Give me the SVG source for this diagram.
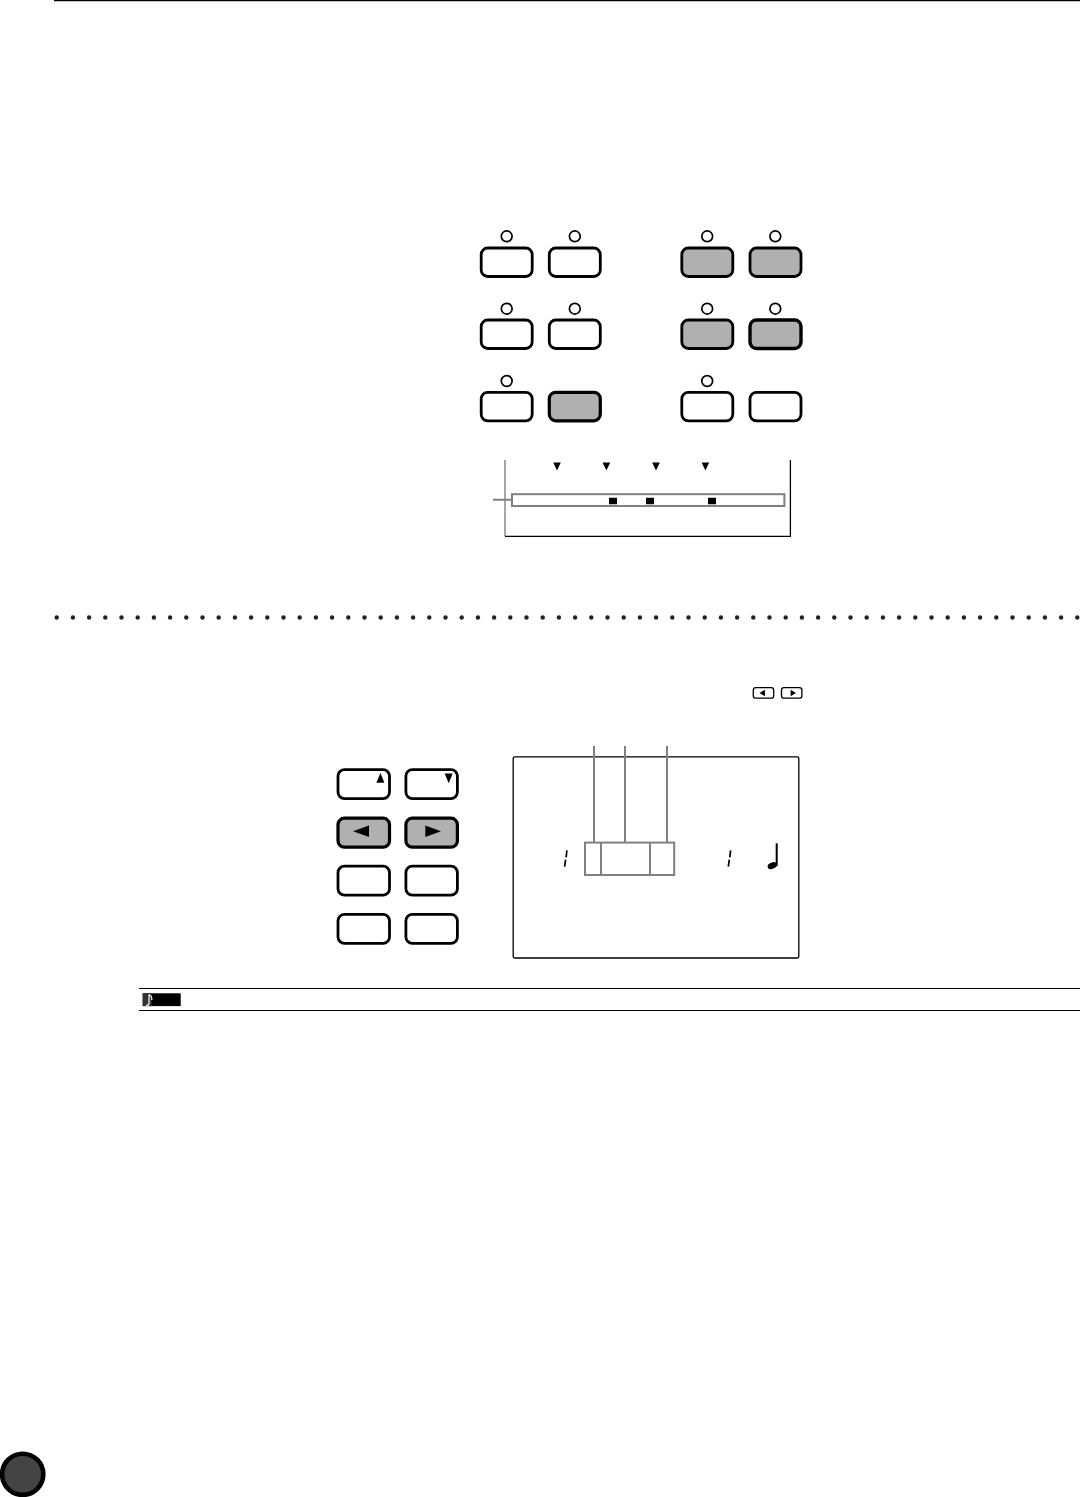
<svg xmlns="http://www.w3.org/2000/svg" width="1080" height="1497" viewBox="0 0 1080 1497">
<defs>
<style>
.btn{fill:#fff;stroke:#000;stroke-width:2.8}
.on{fill:#b0b0b0}
.led{fill:#fff;stroke:#000;stroke-width:1.7}
.g{fill:none;stroke:#808080;stroke-width:2}
.k{fill:none;stroke:#000;stroke-width:1.3}
.sm{fill:#fff;stroke:#000;stroke-width:1.3}
</style>
<rect id="b" x="0" y="0" width="51" height="28.5" rx="6.5"/>
<rect id="b2" x="0" y="0" width="51.5" height="29" rx="6.5"/>
<circle id="l" r="5.4"/>
</defs>
<rect width="1080" height="1497" fill="#fff"/>
<line x1="54" y1="0.5" x2="1080" y2="0.5" stroke="#000" stroke-width="1.3"/>

<g id="panel-top">
<g id="t1"><use href="#l" class="led" x="506.7" y="236.3"/><use href="#b" class="btn" x="481.2" y="248"/></g>
<g id="t2"><use href="#l" class="led" x="574.8" y="236.3"/><use href="#b" class="btn" x="549.3" y="248"/></g>
<g id="t3"><use href="#l" class="led" x="707.2" y="236.3"/><use href="#b" class="btn on" x="681.8" y="248"/></g>
<g id="t4"><use href="#l" class="led" x="775.3" y="236.3"/><use href="#b" class="btn on" x="750" y="248"/></g>
<g id="t5"><use href="#l" class="led" x="506.7" y="308.7"/><use href="#b" class="btn" x="481.2" y="320"/></g>
<g id="t6"><use href="#l" class="led" x="574.8" y="308.7"/><use href="#b" class="btn" x="549.3" y="320"/></g>
<g id="t7"><use href="#l" class="led" x="707.2" y="308.7"/><use href="#b" class="btn on" x="681.8" y="320"/></g>
<g id="t8"><use href="#l" class="led" x="775.3" y="308.7"/><use href="#b" class="btn on" style="stroke-width:3.4" x="750" y="320"/></g>
<g id="t9"><use href="#l" class="led" x="506.7" y="381"/><use href="#b" class="btn" x="481.2" y="392.3"/></g>
<g id="t10"><use href="#b" class="btn on" style="stroke-width:3.2" x="549.3" y="392.3"/></g>
<g id="t11"><use href="#l" class="led" x="707.2" y="381"/><use href="#b" class="btn" x="681.8" y="392.3"/></g>
<g id="t12"><use href="#b" class="btn" x="750" y="392.3"/></g>
</g>

<g id="display-top">
<path d="M505 460V536.3" class="g" style="stroke-width:1.4"/>
<path d="M505 536.3H790.4V460" class="k"/>
<path d="M553.2 462.6h7.6L557 470.4ZM602.6 462.6h7.6L606.4 470.4ZM652.2 462.6h7.6L656 470.4ZM701.6 462.6h7.6L705.4 470.4Z" fill="#000"/>
<rect x="512" y="494.2" width="272.4" height="11.8" class="g"/>
<path d="M609 497.8h8v6.4h-8ZM646 497.8h8v6.4h-8ZM708 497.8h8v6.4h-8Z" fill="#000"/>
</g>

<g id="dots" fill="#222">
<circle cx="56.7" cy="617.5" r="2.2"/><circle cx="72.9" cy="617.5" r="2.2"/><circle cx="89.1" cy="617.5" r="2.2"/><circle cx="105.3" cy="617.5" r="2.2"/><circle cx="121.5" cy="617.5" r="2.2"/><circle cx="137.7" cy="617.5" r="2.2"/><circle cx="153.9" cy="617.5" r="2.2"/><circle cx="170.1" cy="617.5" r="2.2"/><circle cx="186.3" cy="617.5" r="2.2"/><circle cx="202.5" cy="617.5" r="2.2"/><circle cx="218.7" cy="617.5" r="2.2"/><circle cx="234.9" cy="617.5" r="2.2"/><circle cx="251.1" cy="617.5" r="2.2"/><circle cx="267.3" cy="617.5" r="2.2"/><circle cx="283.5" cy="617.5" r="2.2"/><circle cx="299.7" cy="617.5" r="2.2"/><circle cx="315.9" cy="617.5" r="2.2"/><circle cx="332.1" cy="617.5" r="2.2"/><circle cx="348.3" cy="617.5" r="2.2"/><circle cx="364.5" cy="617.5" r="2.2"/><circle cx="380.7" cy="617.5" r="2.2"/><circle cx="396.9" cy="617.5" r="2.2"/><circle cx="413.1" cy="617.5" r="2.2"/><circle cx="429.3" cy="617.5" r="2.2"/><circle cx="445.5" cy="617.5" r="2.2"/><circle cx="461.7" cy="617.5" r="2.2"/><circle cx="477.9" cy="617.5" r="2.2"/><circle cx="494.1" cy="617.5" r="2.2"/><circle cx="510.3" cy="617.5" r="2.2"/><circle cx="526.5" cy="617.5" r="2.2"/><circle cx="542.7" cy="617.5" r="2.2"/><circle cx="558.9" cy="617.5" r="2.2"/><circle cx="575.1" cy="617.5" r="2.2"/><circle cx="591.3" cy="617.5" r="2.2"/><circle cx="607.5" cy="617.5" r="2.2"/><circle cx="623.7" cy="617.5" r="2.2"/><circle cx="639.9" cy="617.5" r="2.2"/><circle cx="656.1" cy="617.5" r="2.2"/><circle cx="672.3" cy="617.5" r="2.2"/><circle cx="688.5" cy="617.5" r="2.2"/><circle cx="704.7" cy="617.5" r="2.2"/><circle cx="720.9" cy="617.5" r="2.2"/><circle cx="737.1" cy="617.5" r="2.2"/><circle cx="753.3" cy="617.5" r="2.2"/><circle cx="769.5" cy="617.5" r="2.2"/><circle cx="785.7" cy="617.5" r="2.2"/><circle cx="801.9" cy="617.5" r="2.2"/><circle cx="818.1" cy="617.5" r="2.2"/><circle cx="834.3" cy="617.5" r="2.2"/><circle cx="850.5" cy="617.5" r="2.2"/><circle cx="866.7" cy="617.5" r="2.2"/><circle cx="882.9" cy="617.5" r="2.2"/><circle cx="899.1" cy="617.5" r="2.2"/><circle cx="915.3" cy="617.5" r="2.2"/><circle cx="931.5" cy="617.5" r="2.2"/><circle cx="947.7" cy="617.5" r="2.2"/><circle cx="963.9" cy="617.5" r="2.2"/><circle cx="980.1" cy="617.5" r="2.2"/><circle cx="996.3" cy="617.5" r="2.2"/><circle cx="1012.5" cy="617.5" r="2.2"/><circle cx="1028.7" cy="617.5" r="2.2"/><circle cx="1044.9" cy="617.5" r="2.2"/><circle cx="1061.1" cy="617.5" r="2.2"/><circle cx="1077.3" cy="617.5" r="2.2"/>
</g>

<g id="inline-keys">
<rect class="sm" x="753.3" y="687.6" width="20.4" height="10.6" rx="2.5"/>
<path d="M759.5 693l5.4-3.3v6.6Z" fill="#000"/>
<rect class="sm" x="781.5" y="687.6" width="20.4" height="10.6" rx="2.5"/>
<path d="M796 693l-5.4-3.3v6.6Z" fill="#000"/>
</g>

<g id="panel-bottom">
<g id="k1"><use href="#b2" class="btn" x="338" y="769.6"/><path d="M380.4 773l4 9.8h-8Z" fill="#000"/></g>
<g id="k2"><use href="#b2" class="btn" x="405.9" y="769.6"/><path d="M448.7 783.2l-4-9.6h8Z" fill="#000"/></g>
<g id="k3"><use href="#b2" class="btn on" style="stroke-width:3.2" x="338" y="818.2"/><path d="M353 831.2l16-5.8v11.6Z" fill="#000"/></g>
<g id="k4"><use href="#b2" class="btn on" style="stroke-width:3.2" x="405.9" y="818.2"/><path d="M441 831.2l-15.7-5.8v11.6Z" fill="#000"/></g>
<g id="k5"><use href="#b2" class="btn" x="338" y="866.2"/></g>
<g id="k6"><use href="#b2" class="btn" x="405.9" y="866.2"/></g>
<g id="k7"><use href="#b2" class="btn" x="338" y="914.4"/></g>
<g id="k8"><use href="#b2" class="btn" x="405.9" y="914.4"/></g>
</g>

<g id="display-bottom">
<rect x="513.2" y="756.8" width="285.6" height="201.2" rx="1.5" class="k"/>
<path d="M566.9 850.4l-0.8 7M565.6 859.6l-1 7M730.6 850.4l-0.8 7M729.3 859.6l-1 7" fill="none" stroke="#000" stroke-width="1.7"/>
<path d="M776.7 843.3V866" fill="none" stroke="#000" stroke-width="2"/>
<ellipse cx="772.3" cy="865.6" rx="4.8" ry="3.2" transform="rotate(-22 772.3 865.6)" fill="#000"/>
<rect x="585" y="842.6" width="89.2" height="32.4" class="g"/>
<path d="M601 842.6V875M650 842.6V875" class="g"/>
</g>

<g id="connectors">
<path d="M493 499.7H512M594 746V842.6M625 746V842.6M667 746V842.6" class="g"/>
</g>

<g id="note-bar">
<path d="M139 988.5H1080M139 1010.5H1080" fill="none" stroke="#000" stroke-width="1.1"/>
<rect x="142.7" y="993.3" width="38" height="12.8" fill="#000"/>
<rect x="142.7" y="993.3" width="9" height="12.8" fill="#333"/>
<path d="M149 994.4V1003.6c0 1.6-1.8 2-3 1.6M149 994.6c1.8 1 3.2 2.4 2.8 5.4" fill="none" stroke="#fff" stroke-width="1.2"/>
</g>

<g id="page-badge">
<circle cx="22.7" cy="1474.3" r="20.6" fill="#444" stroke="#000" stroke-width="4.6"/>
</g>
</svg>
